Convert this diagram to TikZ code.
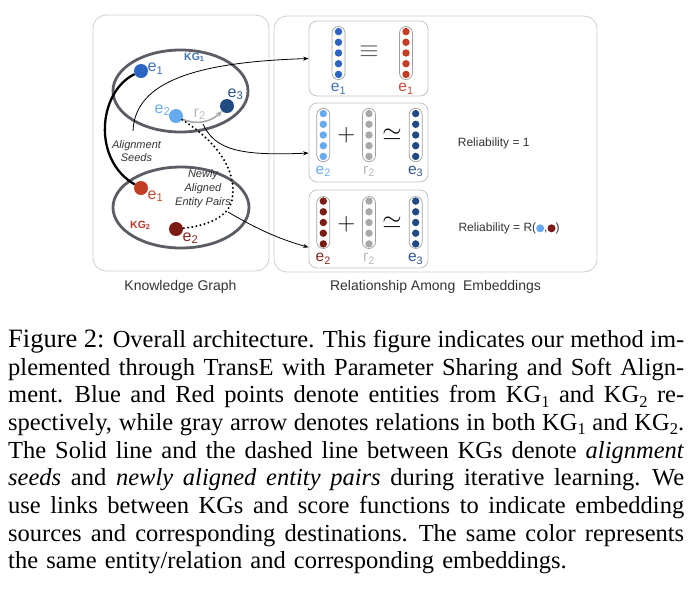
\documentclass[tikz,border=0pt]{standalone}
\usepackage{fontspec}
\setmainfont{Liberation Serif}
\newfontfamily\dfont{Liberation Sans}
\usetikzlibrary{shapes.geometric,arrows.meta}
\definecolor{kblue}{HTML}{2C64C4}
\definecolor{lblue}{HTML}{66AAF0}
\definecolor{dblue}{HTML}{1F4B82}
\definecolor{kred}{HTML}{C43E26}
\definecolor{dred}{HTML}{7A1C14}
\definecolor{rgray}{HTML}{A8A8A8}
\definecolor{rlab}{HTML}{BBBBBB}
\definecolor{ellgray}{HTML}{5A5E64}
\definecolor{boxgray}{HTML}{CFCFCF}
\definecolor{ibgray}{HTML}{C4C4C4}
\definecolor{capgray}{HTML}{A0A0A0}
\definecolor{txt}{HTML}{333333}
\definecolor{kgonecol}{HTML}{3D72B8}
\definecolor{kgtwocol}{HTML}{B73A2A}
\definecolor{labblue}{HTML}{3D72C0}
\definecolor{labdblue}{HTML}{2B5590}
\definecolor{lablblue}{HTML}{6AAEF2}
\definecolor{labred}{HTML}{C84A35}
\definecolor{labdred}{HTML}{8A2A20}
\tikzset{
  panel/.style={draw=boxgray, line width=0.8pt, rounded corners=13pt, inner sep=0},
  innerbox/.style={draw=ibgray, line width=0.8pt, rounded corners=8pt, inner sep=0, minimum width=119pt},
  kgell/.style={ellipse, draw=ellgray, line width=2.8pt, inner sep=0},
  ent/.style={circle, inner sep=0, minimum size=14pt},
  elab/.style={anchor=base west, inner sep=0, font=\dfont\fontsize{16}{16}\selectfont},
  ital/.style={inner sep=0, align=center, text=txt},
  link/.style={draw=black, line width=0.8pt, -{Stealth[length=5.5pt,width=4pt]}},
  capsule/.style={draw=capgray, line width=0.7pt, rounded corners=6.5pt, minimum width=13pt, inner sep=0},
  vlab/.style={anchor=base, inner sep=0, font=\dfont\fontsize{15.5}{15.5}\selectfont},
  op/.style={inner sep=0, font=\fontsize{24}{24}\selectfont},
  plainlab/.style={inner sep=0, text=txt},
}
\newcommand\embvec[5]{%
  \node[capsule, minimum height=#5pt] (#1) at (#2,#3) {};
  \foreach \k in {-2,-1,0,1,2} {\fill[#4] ({#2},{#3+\k*10.7}) circle (3.7pt);}
}
\newcommand\capline[1]{\hbox to 676pt{\spaceskip=6.1pt plus 7pt minus 3.8pt\xspaceskip=8pt plus 7pt minus 4.8pt #1}\par}
\newcommand\capsub[1]{\raisebox{-4.3pt}{\fontsize{16.5}{16.5}\selectfont #1}}
\begin{document}
\begin{tikzpicture}[x=1pt,y=-1pt]
\useasboundingbox (0,0) rectangle (694,590);
\fill[white] (0,0) rectangle (694,590);

% panels
\node[panel, minimum width=176pt, minimum height=256pt] (kgpanel) at (181,143) {};
\node[panel, minimum width=323pt, minimum height=256pt] (relpanel) at (435.5,144) {};
\node[plainlab, anchor=base, font=\dfont\fontsize{14}{14}\selectfont] (kglab) at (180.5,290) {Knowledge Graph};
\node[plainlab, anchor=base, font=\dfont\fontsize{14}{14}\selectfont] (rellab) at (435.5,290) {Relationship Among\ \ Embeddings};

% knowledge graphs
\node[kgell, minimum width=135pt, minimum height=82pt] (kg1) at (180.5,91) {};
\node[kgell, minimum width=136pt, minimum height=81pt] (kg2) at (181,207.5) {};
\node[anchor=base west, inner sep=0, font=\dfont\bfseries\fontsize{10.5}{10.5}\selectfont, text=kgonecol] (kg1lab) at (184,60) {KG\textsubscript{1}};
\node[anchor=base west, inner sep=0, font=\dfont\bfseries\fontsize{10.5}{10.5}\selectfont, text=kgtwocol] (kg2lab) at (130,228) {KG\textsubscript{2}};

\node[ent, fill=kblue] (b1) at (141,71) {};
\node[ent, fill=lblue] (b2) at (176,116) {};
\node[ent, fill=dblue] (b3) at (227,106) {};
\node[ent, fill=kred] (r1) at (141,188) {};
\node[ent, fill=dred] (r2) at (176,229) {};

\node[elab, text=labblue] (b1lab) at (147.5,71.7) {e\textsubscript{1}};
\node[elab, text=lablblue] (b2lab) at (154.5,113) {e\textsubscript{2}};
\node[elab, text=labdblue] (b3lab) at (227.5,97) {e\textsubscript{3}};
\node[elab, text=rlab] (rellab2) at (193.5,117) {r\textsubscript{2}};
\node[elab, text=labred] (r1lab) at (147.5,199) {e\textsubscript{1}};
\node[elab, text=labdred] (r2lab) at (182.5,241) {e\textsubscript{2}};

% relation arrow
\draw[draw=rgray, line width=1.6pt, -{Stealth[length=6pt,width=5.5pt]}] (b2) .. controls (197,126) and (212,121) .. (b3);

% alignment seeds (solid) and newly aligned pairs (dotted)
\draw[line width=2.3pt] (b1) .. controls (98,92) and (92,160) .. (r1);
\coordinate (dotbend) at (232,200);
\draw[line width=2.2pt, dash pattern=on 0pt off 4.2pt, line cap=round] (b2) .. controls (215,140) and (238,170) .. (dotbend) .. controls (228,218) and (205,226) .. (r2);

\node[ital, font=\dfont\itshape\fontsize{11}{13.5}\selectfont] (seeds) at (136.5,151) {Alignment\\Seeds};
\node[ital, font=\dfont\itshape\fontsize{11}{14}\selectfont] (newly) at (203,188.5) {Newly\\Aligned\\Entity Pairs};

% embedding boxes
\node[innerbox, minimum height=75pt] (box1) at (368.5,58.5) {};
\node[innerbox, minimum height=79pt] (box2) at (368.5,142.5) {};
\node[innerbox, minimum height=78pt] (box3) at (368.5,229) {};

\embvec{v11}{338.5}{53}{kblue}{53}
\embvec{v12}{406}{53}{kred}{53}
\embvec{v21}{323.3}{135}{lblue}{53.4}
\embvec{v22}{369}{135}{rgray}{53.4}
\embvec{v23}{415.7}{135}{dblue}{53.4}
\embvec{v31}{323.3}{222.5}{dred}{52}
\embvec{v32}{369}{222.5}{rgray}{52}
\embvec{v33}{415.7}{222.5}{dblue}{52}

\node[vlab, text=labblue] (l11) at (338.5,91.7) {e\textsubscript{1}};
\node[vlab, text=labred] (l12) at (406,91.7) {e\textsubscript{1}};
\node[vlab, text=lablblue] (l21) at (323.3,174) {e\textsubscript{2}};
\node[vlab, text=rlab] (l22) at (369,174) {r\textsubscript{2}};
\node[vlab, text=labdblue] (l23) at (415.7,174) {e\textsubscript{3}};
\node[vlab, text=labdred] (l31) at (323.3,261.7) {e\textsubscript{2}};
\node[vlab, text=rlab] (l32) at (369,261.7) {r\textsubscript{2}};
\node[vlab, text=labdblue] (l33) at (415.7,261.7) {e\textsubscript{3}};

\node[op, font=\fontsize{30}{30}\selectfont, text=black!70] (eq1) at (369,51.7) {$\equiv$};
\node[op] (plus2) at (346.3,135) {$+$};
\node[op] (sim2) at (392,134.5) {$\simeq$};
\node[op] (plus3) at (346.3,224.3) {$+$};
\node[op] (sim3) at (392,222.8) {$\simeq$};

\node[plainlab, anchor=base west, font=\dfont\fontsize{12}{12}\selectfont] (rel1) at (457.7,146.7) {Reliability = 1};
\node[plainlab, anchor=base west, font=\dfont\fontsize{12}{12}\selectfont] (rel2) at (458.3,231.7) {Reliability = R(\tikz[baseline=-3.4pt]\fill[lblue] (0,0) circle (4pt);,\tikz[baseline=-3.4pt]\fill[dred] (0,0) circle (4pt);)};

% links
\coordinate (seedsrc) at (133,131);
\draw[link] (seedsrc) .. controls (135,80) and (200,62) .. (box1.west);
\coordinate (relsrc) at (203,124);
\draw[link] (relsrc) .. controls (215,150) and (240,156) .. (box2.190);
\coordinate (dotsrc) at (228,212);
\draw[link] (dotsrc) .. controls (250,225) and (275,238) .. (box3.197);

% caption
\node[anchor=base west, inner sep=0, text width=676pt, font=\fontsize{24.5}{27.7}\selectfont] (caption) at (8,347.3) {%
\capline{{\fontsize{26.5}{26.5}\selectfont Figure 2:} Overall architecture. This figure indicates our method im-}%
\capline{plemented through TransE with Parameter Sharing and Soft Align-}%
\capline{ment. Blue and Red points denote entities from KG\capsub{1} and KG\capsub{2} re-}%
\capline{spectively, while gray arrow denotes relations in both KG\capsub{1} and KG\capsub{2}.}%
\capline{The Solid line and the dashed line between KGs denote \textit{alignment}}%
\capline{\textit{seeds} and \textit{newly aligned entity pairs} during iterative learning. We}%
\capline{use links between KGs and score functions to indicate embedding}%
\capline{sources and corresponding destinations. The same color represents}%
\hbox{the same entity/relation and corresponding embeddings.}};
\end{tikzpicture}
\end{document}
